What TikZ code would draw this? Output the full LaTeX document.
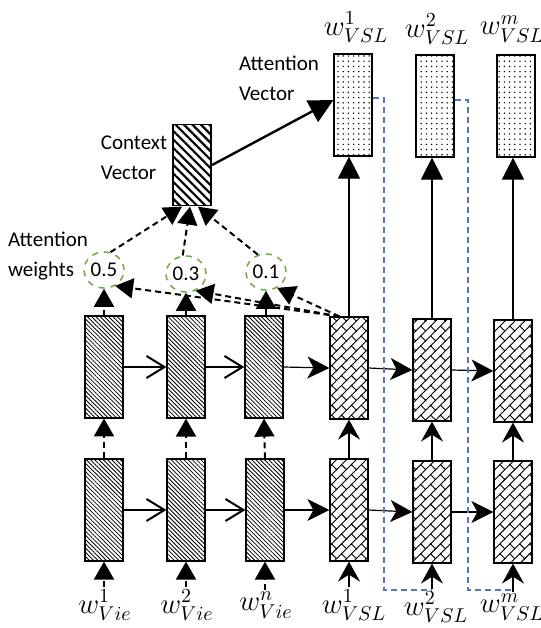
\documentclass[tikz,border=0pt]{standalone}
\usepackage{fontspec}
\setmainfont{Carlito}
\usetikzlibrary{arrows.meta,patterns.meta,shapes.geometric}

\definecolor{wgreen}{RGB}{118,172,80}
\definecolor{lblue}{RGB}{80,120,200}

% diagonal bricks for the decoder cells
\tikzdeclarepattern{
  name=DiagBricks,
  type=uncolored,
  bottom left={(-.5pt,-.5pt)},
  top right={(7.5pt,7.5pt)},
  tile size={(7pt,7pt)},
  tile transformation={rotate=45},
  code={
    \draw[line width=.45pt] (-.5pt,0) -- (7.5pt,0) (-.5pt,3.5pt) -- (7.5pt,3.5pt)
      (0,0) -- (0,3.5pt) (3.5pt,3.5pt) -- (3.5pt,7pt);
  }
}

\tikzset{
  cell/.style={draw, line width=0.6pt, inner sep=0pt, minimum width=19pt, minimum height=51pt},
  encbox/.style={cell, pattern={Lines[angle=-45,distance=1.5pt,line width=0.4pt]}},
  decbox/.style={cell, pattern=DiagBricks},
  outbox/.style={cell, pattern={Dots[distance=2.6pt,radius=0.4pt]}},
  ctxbox/.style={cell, minimum height=40.5pt, pattern={Lines[angle=-45,distance=3pt,line width=1.1pt]}},
  weight/.style={ellipse, draw=wgreen, dashed, line width=0.8pt, minimum width=20pt, minimum height=18pt, inner sep=0pt},
  wlab/.style={font=\fontsize{14}{16}\selectfont, inner sep=1pt},
  dasharrow/.style={dash pattern=on 3pt off 2pt, line width=1pt, -{Triangle[length=9pt,width=10pt]}},
  openarrow/.style={line width=1pt, -{Straight Barb[length=9pt,width=11pt]}},
  solidarrow/.style={line width=0.6pt, -{Stealth[length=11pt,width=11pt,inset=3pt]}},
  uparrow/.style={line width=0.6pt, -{Stealth[length=10pt,width=11pt,inset=3.5pt]}},
  toparrow/.style={line width=0.6pt, -{Triangle[length=11pt,width=11pt]}},
  ctxarrow/.style={line width=1.2pt, -{Triangle[length=12pt,width=12pt]}},
  vsldash/.style={draw=lblue, dash pattern=on 3pt off 2pt, line width=0.8pt}
}

\begin{document}
\begin{tikzpicture}[x=0.5pt,y=-0.5pt, font=\fontsize{10.5}{15}\selectfont]
    \useasboundingbox (0,0) rectangle (541,628);

    % Encoder cells
    \node[encbox] (e1u) at (104,367) {};
    \node[encbox] (e2u) at (186,367) {};
    \node[encbox] (e3u) at (264,367) {};
    \node[encbox] (e1l) at (104,510) {};
    \node[encbox] (e2l) at (186,510) {};
    \node[encbox] (e3l) at (265,510) {};

    % Decoder cells
    \node[decbox] (d1u) at (349,368) {};
    \node[decbox] (d2u) at (432,370) {};
    \node[decbox] (d3u) at (513,371) {};
    \node[decbox] (d1l) at (349,510) {};
    \node[decbox] (d2l) at (432,512) {};
    \node[decbox] (d3l) at (513,512) {};

    % Output cells
    \node[outbox] (t1) at (353,105) {};
    \node[outbox] (t2) at (435,106) {};
    \node[outbox] (t3) at (516,106) {};

    % Context and weights
    \node[ctxbox] (ctx) at (192,165) {};
    \node[weight] (c1) at (104,270) {0.5};
    \node[weight] (c2) at (186,274) {0.3};
    \node[weight] (c3) at (266,272) {0.1};

    % Text labels
    \node[align=left] (lw) at (48,256) {Attention\\weights};
    \node[align=left] (lc) at (134,158) {Context\\Vector};
    \node[align=left] (la) at (279,78) {Attention\\Vector};

    % -- inputs
    \node[wlab] (xv1) at (105,605) {$w^{1}_{Vie}$};
    \node[wlab] (xv2) at (187,605) {$w^{2}_{Vie}$};
    \node[wlab] (xv3) at (266,605) {$w^{n}_{Vie}$};
    \node[wlab] (xs1) at (354,605) {$w^{1}_{VSL}$};
    \node[wlab] (xs2) at (436,607) {$w^{2}_{VSL}$};
    \node[wlab] (xs3) at (512,607) {$w^{m}_{VSL}$};

    % -- outputs
    \node[wlab] (o1) at (356,27) {$w^{1}_{VSL}$};
    \node[wlab] (o2) at (437,29) {$w^{2}_{VSL}$};
    \node[wlab] (o3) at (512,29) {$w^{m}_{VSL}$};

    % Input arrows
    \draw[dasharrow] (e1l.south |- xv1.north) -- (e1l.south);
    \draw[dasharrow] (e2l.south |- xv2.north) -- (e2l.south);
    \draw[dasharrow] (e3l.south |- xv3.north) -- (e3l.south);
    \draw[uparrow] (d1l.south |- xs1.north) -- (d1l.south);
    \draw[uparrow] (d2l.south |- xs2.north) -- (d2l.south);
    \draw[uparrow] (d3l.south |- xs3.north) -- (d3l.south);

    % Between layers
    \draw[dasharrow] (e1l.north) -- (e1u.south);
    \draw[dasharrow] (e2l.north) -- (e2u.south);
    \draw[dasharrow] (e3l.north) -- (e3u.south);
    \draw[uparrow] (d1l.north) -- (d1u.south);
    \draw[uparrow] (d2l.north) -- (d2u.south);
    \draw[uparrow] (d3l.north) -- (d3u.south);

    % Recurrent arrows
    \draw[openarrow] (e1u.east) -- (e2u.west);
    \draw[openarrow] (e2u.east) -- (e3u.west);
    \draw[solidarrow] (e3u.east) -- (d1u.west);
    \draw[solidarrow] (d1u.east) -- (d2u.west);
    \draw[solidarrow] (d2u.east) -- (d3u.west);
    \draw[openarrow] (e1l.east) -- (e2l.west);
    \draw[openarrow] (e2l.east) -- (e3l.west);
    \draw[solidarrow] (e3l.east) -- (d1l.west);
    \draw[solidarrow] (d1l.east) -- (d2l.west);
    \draw[solidarrow] (d2l.east) -- (d3l.west);

    % Decoder to outputs
    \draw[toparrow] (d1u.north) -- (d1u.north |- t1.south);
    \draw[toparrow] (d2u.north) -- (d2u.north |- t2.south);
    \draw[toparrow] (d3u.north) -- (d3u.north |- t3.south);

    % Attention
    \coordinate (att) at ([xshift=5pt]d1u.north west);
    \draw[dasharrow] (e1u.north) -- (c1.south);
    \draw[dasharrow] (e2u.north) -- (c2.south);
    \draw[dasharrow] (c3.south |- e3u.north) -- (c3.south);
    \draw[dasharrow] (att) -- (c1.-55);
    \draw[dasharrow] (att) -- (c2.-60);
    \draw[dasharrow] (att) -- (c3.-55);
    \draw[dasharrow] (c1.70) -- ([xshift=-5pt]ctx.south);
    \draw[dasharrow] (c2.100) -- ([xshift=-1pt]ctx.south);
    \draw[dasharrow] (c3.115) -- ([xshift=3pt]ctx.south);
    \draw[ctxarrow] (ctx.east) -- ([yshift=2.5pt]t1.west);

    % Feedback of outputs
    \draw[vsldash] ([yshift=3.5pt]t1.east) -| (384,590) -- (d2l.south |- 0,590);
    \draw[vsldash] ([yshift=3pt]t2.east) -| (468,590) -- (d3l.south |- 0,590);
\end{tikzpicture}
\end{document}
